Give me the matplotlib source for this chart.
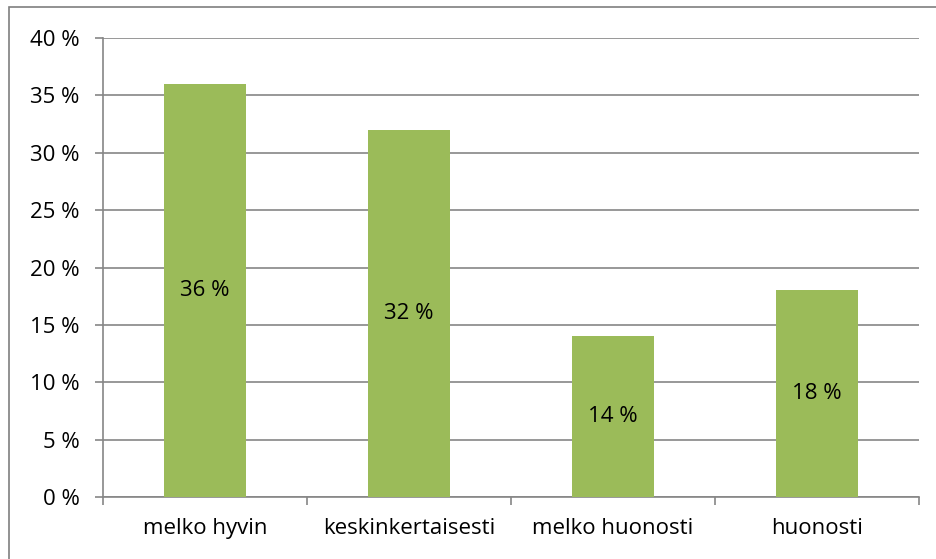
import matplotlib
matplotlib.use('Agg')
import matplotlib.pyplot as plt
from matplotlib.patches import Rectangle

categories = ['melko hyvin', 'keskinkertaisesti', 'melko huonosti', 'huonosti']
values = [36, 32, 14, 18]
yticks = [0, 5, 10, 15, 20, 25, 30, 35, 40]

plt.rcParams['font.family'] = ['Open Sans', 'DejaVu Sans']
fs = 16

W, H = 936, 559
fig = plt.figure(figsize=(W / 100, H / 100), dpi=100)
ax = fig.add_axes([103 / W, 1 - 497 / H, (919 - 103) / W, (497 - 38) / H])

grid_col = '#868686'
x = range(len(categories))
ax.bar(x, values, width=0.4, color='#9BBB59', zorder=3)
for xi, v in zip(x, values):
    ax.text(xi, v / 2, f'{v} %', ha='center', va='center', fontsize=fs, color='black', zorder=4)

ax.set_xlim(-0.5, len(categories) - 0.5)
ax.set_ylim(0, 40)
ax.set_yticks(yticks)
ax.set_yticklabels([f'{t} %' for t in yticks], fontsize=fs)
ax.yaxis.grid(True, color=grid_col, linewidth=1.2, zorder=0)
ax.set_xticks(list(x))
ax.set_xticklabels(categories, fontsize=fs)
ax.tick_params(axis='x', length=0, pad=15)
ax.tick_params(axis='y', length=6, color=grid_col, width=1.2, pad=11)

# boundary tick marks on x axis
ax.set_xticks([i - 0.5 for i in range(len(categories) + 1)], minor=True)
ax.tick_params(axis='x', which='minor', length=6, color=grid_col, width=1.2)

for s in ['top', 'right']:
    ax.spines[s].set_visible(False)
for s in ['left', 'bottom']:
    ax.spines[s].set_color(grid_col)
    ax.spines[s].set_linewidth(1.2)

# chart frame
fig.patches.append(Rectangle((9 / W, -0.1), 1.2, 1 - 7 / H + 0.1, transform=fig.transFigure,
                             fill=False, edgecolor='#7f7f7f', linewidth=1.2))

fig.savefig('out.png', dpi=100)
